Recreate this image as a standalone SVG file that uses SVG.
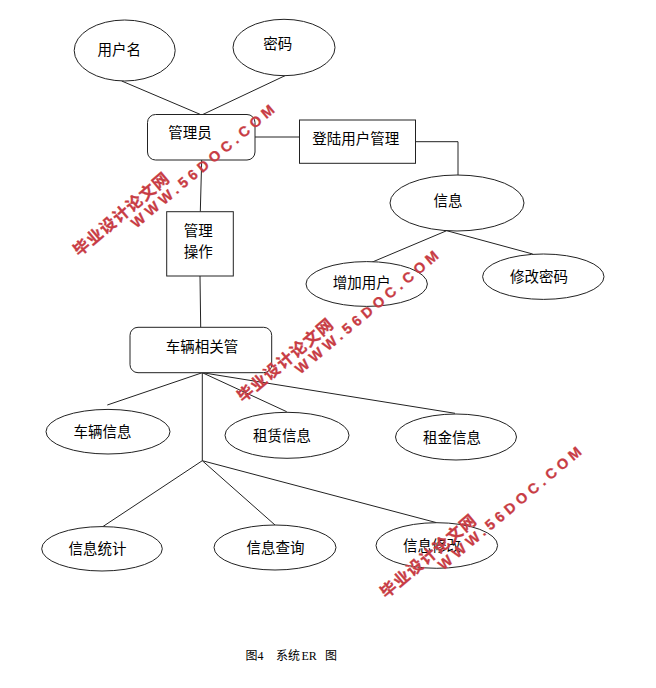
<svg xmlns="http://www.w3.org/2000/svg" width="656" height="688" viewBox="0 0 656 688">
<style>
.shape{fill:#fff;stroke:#222;stroke-width:1}
.lbl{font-family:"Noto Sans CJK SC","Liberation Sans",sans-serif;font-size:14.5px;fill:#000;text-anchor:middle}
.conn{fill:none;stroke:#222;stroke-width:1}
.cap{font-family:"Liberation Serif","Noto Sans CJK SC",serif;font-size:12px;fill:#000}
.wmc{font-family:"Noto Sans CJK SC","Liberation Sans",sans-serif;font-size:16px;font-weight:bold;fill:#c83c44;stroke:#c83c44;stroke-width:0.3;letter-spacing:1.2px}
.wme{font-family:"Liberation Sans","Noto Sans",sans-serif;font-size:14.5px;font-weight:bold;fill:#c83c44;stroke:#c83c44;stroke-width:0.3;letter-spacing:4.3px}
</style>
<rect width="656" height="688" fill="#fff"/>
<g id="connectors">
<line class="conn" x1="121.7" y1="81" x2="201.7" y2="115"/>
<line class="conn" x1="285" y1="75.7" x2="201.7" y2="115"/>
<line class="conn" x1="255" y1="137" x2="300" y2="137"/>
<polyline class="conn" points="415.7,141.7 458,141.7 458,175"/>
<line class="conn" x1="201.7" y1="160" x2="200.3" y2="211.7"/>
<line class="conn" x1="200" y1="276" x2="200.7" y2="327.3"/>
<line class="conn" x1="446.7" y1="230.7" x2="371.7" y2="262.3"/>
<line class="conn" x1="446.7" y1="230.7" x2="532.7" y2="254"/>
<line class="conn" x1="202.3" y1="372.7" x2="107.3" y2="405"/>
<line class="conn" x1="202.3" y1="372.7" x2="286.7" y2="411.7"/>
<line class="conn" x1="202.3" y1="372.7" x2="455" y2="413.3"/>
<line class="conn" x1="202.3" y1="372.7" x2="202.3" y2="460.7"/>
<line class="conn" x1="202.3" y1="460.7" x2="102.7" y2="526.7"/>
<line class="conn" x1="202.3" y1="460.7" x2="275" y2="525"/>
<line class="conn" x1="202.3" y1="460.7" x2="436.7" y2="522.7"/>
</g>
<g id="n-username"><ellipse class="shape" cx="124.7" cy="50.5" rx="50.5" ry="30.5"/><text class="lbl" x="119.2" y="54.8">用户名</text></g>
<g id="n-password"><ellipse class="shape" cx="284" cy="47.5" rx="51" ry="28.2"/><text class="lbl" x="277.8" y="48.8">密码</text></g>
<g id="n-admin"><rect class="shape" x="147.5" y="114.5" width="107.5" height="45.5" rx="8"/><text class="lbl" x="190" y="138.2">管理员</text></g>
<g id="n-login"><rect class="shape" x="299.5" y="120" width="116" height="43.3"/><text class="lbl" x="355.8" y="143.5">登陆用户管理</text></g>
<g id="n-info"><ellipse class="shape" cx="457" cy="203" rx="67" ry="28"/><text class="lbl" x="448" y="205.5">信息</text></g>
<g id="n-adduser"><ellipse class="shape" cx="366.7" cy="284" rx="60.7" ry="22.4"/><text class="lbl" x="361.7" y="287.8">增加用户</text></g>
<g id="n-changepwd"><ellipse class="shape" cx="543.3" cy="276.7" rx="60.7" ry="22.7"/><text class="lbl" x="539" y="282.2">修改密码</text></g>
<g id="n-manage"><rect class="shape" x="166.7" y="211.7" width="66.6" height="64.3"/><text class="lbl" x="198.3" y="235.5">管理</text><text class="lbl" x="198.3" y="257">操作</text></g>
<g id="n-vehicle"><rect class="shape" x="130" y="327.3" width="141.7" height="45.4" rx="8"/><text class="lbl" x="202" y="352.2">车辆相关管</text></g>
<g id="n-vinfo"><ellipse class="shape" cx="108" cy="431.7" rx="62" ry="22.3"/><text class="lbl" x="102.5" y="436.5">车辆信息</text></g>
<g id="n-rent"><ellipse class="shape" cx="287" cy="435.3" rx="62" ry="23"/><text class="lbl" x="282" y="440.5">租赁信息</text></g>
<g id="n-fee"><ellipse class="shape" cx="456" cy="437" rx="60.5" ry="23"/><text class="lbl" x="452" y="442.8">租金信息</text></g>
<g id="n-stat"><ellipse class="shape" cx="102" cy="548.8" rx="60.3" ry="22.2"/><text class="lbl" x="97.5" y="553.8">信息统计</text></g>
<g id="n-query"><ellipse class="shape" cx="275" cy="547.5" rx="61" ry="22.5"/><text class="lbl" x="275.5" y="553.2">信息查询</text></g>
<g id="n-modify"><ellipse class="shape" cx="436.8" cy="545.5" rx="60.8" ry="22.8"/><text class="lbl" x="432" y="550.8">信息修改</text></g>
<g id="caption"><text class="cap" y="659.5"><tspan x="245.5">图4</tspan><tspan x="276">系统</tspan><tspan x="301.5">ER</tspan><tspan x="325">图</tspan></text></g>
<g id="watermarks">
<g transform="translate(79,257) rotate(-40)"><text class="wmc" x="0" y="0">毕业设计论文网</text><text class="wme" x="62" y="15">WWW.56DOC.COM</text></g>
<g transform="translate(243,403) rotate(-40)"><text class="wmc" x="0" y="0">毕业设计论文网</text><text class="wme" x="62" y="15">WWW.56DOC.COM</text></g>
<g transform="translate(386,599) rotate(-40)"><text class="wmc" x="0" y="0">毕业设计论文网</text><text class="wme" x="62" y="15">WWW.56DOC.COM</text></g>
</g>
</svg>
